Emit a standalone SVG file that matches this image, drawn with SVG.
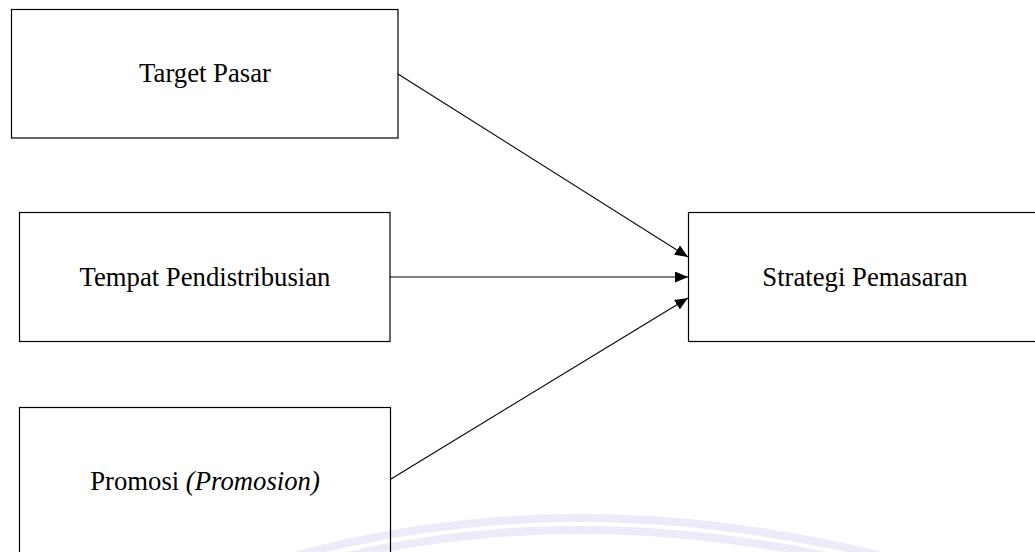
<svg xmlns="http://www.w3.org/2000/svg" width="1035" height="552" viewBox="0 0 1035 552">
<style>
.box{fill:none;stroke:#000;stroke-width:1.2}
.lbl{font-family:"Liberation Serif","Times New Roman",serif;font-size:26.7px;fill:#000;text-anchor:middle}
.edge{stroke:#000;stroke-width:1.1;fill:none;marker-end:url(#arr)}
.wm{fill:none;stroke:#ebebf9;stroke-width:8}
</style>
<defs>
<marker id="arr" markerWidth="13" markerHeight="11" refX="13" refY="5.5" orient="auto" markerUnits="userSpaceOnUse">
<path d="M0,0 L13,5.5 L0,11 Z" fill="#000"/>
</marker>
</defs>
<rect width="1035" height="552" fill="#fff"/>
<g id="watermark">
<path class="wm" d="M260,566 Q570,470 920,566"/>
<path class="wm" d="M285,572 Q570,488 895,572" stroke-width="6"/>
</g>
<g id="node-target">
<rect class="box" x="11.5" y="9.5" width="386.5" height="128.5"/>
<text class="lbl" x="205" y="82">Target Pasar</text>
</g>
<g id="node-tempat">
<rect class="box" x="19.5" y="212.5" width="370.5" height="129"/>
<text class="lbl" x="205" y="286">Tempat Pendistribusian</text>
</g>
<g id="node-promosi">
<rect class="box" x="19.5" y="407.5" width="371" height="160"/>
<text class="lbl" x="205" y="490">Promosi <tspan font-style="italic">(Promosion)</tspan></text>
</g>
<g id="node-strategi">
<rect class="box" x="688.5" y="212.5" width="360" height="129"/>
<text class="lbl" x="865" y="286">Strategi Pemasaran</text>
</g>
<g id="connectors">
<line class="edge" x1="398" y1="74" x2="688" y2="257"/>
<line class="edge" x1="390" y1="277" x2="688" y2="277"/>
<line class="edge" x1="391" y1="479" x2="688" y2="298"/>
</g>
</svg>
